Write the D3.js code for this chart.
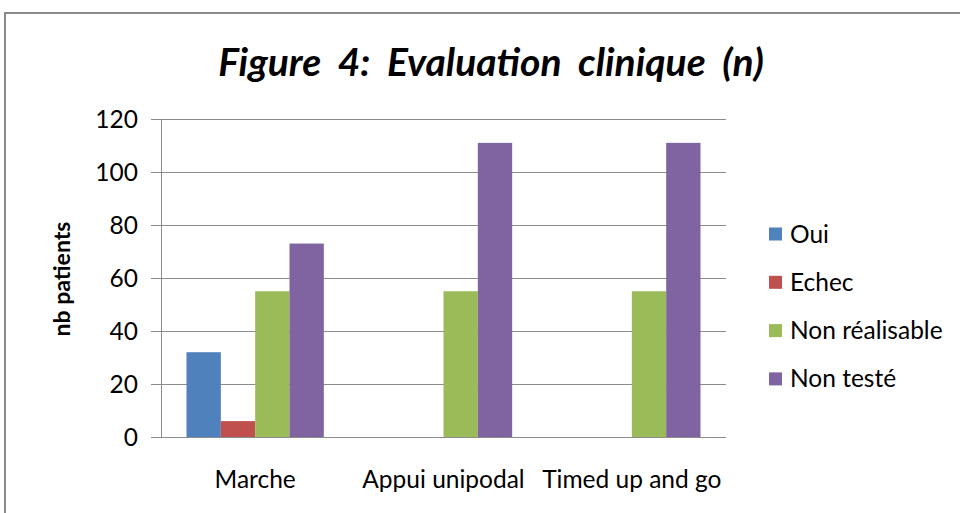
<!DOCTYPE html>
<html><head><meta charset="utf-8">
<script src="https://cdn.jsdelivr.net/npm/d3@7"></script>
<style>body{margin:0;background:#fff}svg{display:block}</style>
</head><body>
<script>
const categories = ["Marche", "Appui unipodal", "Timed up and go"];
const seriesNames = ["Oui", "Echec", "Non réalisable", "Non testé"];
const oui = [32, 0, 0];
const echec = [6, 0, 0];
const nonRealisable = [55, 55, 55];
const nonTeste = [73, 111, 111];
const yTicks = [0, 20, 40, 60, 80, 100, 120];
const colors = ["#4F81BD", "#C0504D", "#9BBB59", "#8064A2"];
const seriesValues = [oui, echec, nonRealisable, nonTeste];

(function () {
const W = 960, H = 513;
const svg = d3.select("body").append("svg").attr("width", W).attr("height", H);
const font = "Lato, 'Open Sans', sans-serif";

svg.append("rect").attr("x", 5).attr("y", 13).attr("width", 1000).attr("height", 600)
  .attr("fill", "none").attr("stroke", "#8a8a8a").attr("stroke-width", 2);

const pL = 161, pR = 726, pT = 119, pB = 437;
const x0 = d3.scaleBand().domain(categories).range([pL, pR]).padding(0);
const x1 = d3.scaleBand().domain(seriesNames).range([25.5, x0.bandwidth() - 25.5]).padding(0);
const y = d3.scaleLinear().domain([0, 120]).range([pB, pT]);

svg.append("g").selectAll("line").data(yTicks).join("line")
  .attr("x1", pL - 10).attr("x2", pR).attr("y1", d => y(d) + 0.5).attr("y2", d => y(d) + 0.5)
  .attr("stroke", "#8c8c8c").attr("stroke-width", 1);
svg.append("line").attr("x1", pL + 0.5).attr("x2", pL + 0.5).attr("y1", pT).attr("y2", pB)
  .attr("stroke", "#8c8c8c");

const data = [];
categories.forEach((c, i) => seriesNames.forEach((s, j) => data.push({c, s, v: seriesValues[j][i], j})));
svg.append("g").selectAll("rect").data(data.filter(d => d.v > 0)).join("rect")
  .attr("x", d => x0(d.c) + x1(d.s)).attr("width", x1.bandwidth())
  .attr("y", d => y(d.v)).attr("height", d => y(0) - y(d.v))
  .attr("fill", d => colors[d.j]);

svg.append("g").selectAll("text").data(yTicks).join("text")
  .attr("x", 138).attr("y", d => y(d)).attr("dy", "0.35em").attr("text-anchor", "end")
  .attr("font-family", font).attr("font-size", 24.5).attr("fill", "#000").text(d => d);

svg.append("g").selectAll("text").data(categories).join("text")
  .attr("x", d => x0(d) + x0.bandwidth() / 2).attr("y", 488).attr("text-anchor", "middle")
  .attr("font-family", font).attr("font-size", 24.5).attr("fill", "#000").text(d => d);

svg.append("text").attr("transform", "translate(70,279) rotate(-90)").attr("text-anchor", "middle")
  .attr("font-family", font).attr("font-size", 23).attr("font-weight", "bold").text("nb patients");

svg.append("text").attr("x", 491).attr("y", 76).attr("text-anchor", "middle")
  .attr("font-family", font).attr("font-size", 39).attr("font-weight", "bold").attr("font-style", "italic")
  .attr("word-spacing", 8).text("Figure 4: Evaluation clinique (n)");

const lg = svg.append("g").selectAll("g").data(seriesNames).join("g")
  .attr("transform", (d, i) => `translate(769,${234 + i * 48.3})`);
lg.append("rect").attr("x", 0).attr("y", -6.5).attr("width", 13).attr("height", 13).attr("fill", (d, i) => colors[i]);
lg.append("text").attr("x", 21).attr("y", 0).attr("dy", "0.35em")
  .attr("font-family", font).attr("font-size", 24.5).text(d => d);
})();
</script>
</body></html>
